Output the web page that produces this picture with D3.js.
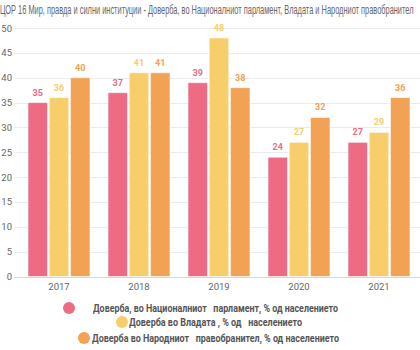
<!DOCTYPE html>
<html>
<head>
<meta charset="utf-8">
<script src="https://cdn.jsdelivr.net/npm/d3@7"></script>
<style>
html,body{margin:0;padding:0;background:#fff;}
svg{display:block;}
</style>
</head>
<body>
<svg id="chart" width="420" height="350"></svg>
<script>
const titleText = "ЦОР 16 Мир, правда и силни институции - Доверба, во Националниот парламент, Владата и Народниот правобранител";
const years = ["2017", "2018", "2019", "2020", "2021"];
const seriesNames = [
  "Доверба, во Националниот   парламент, % од населението",
  "Доверба во Владата , % од   населението",
  "Доверба во Народниот   правобранител, % од населението"
];
const parliament = [35, 37, 39, 24, 27];
const government = [36, 41, 48, 27, 29];
const ombudsman = [40, 41, 38, 32, 36];
const yTicks = [0, 5, 10, 15, 20, 25, 30, 35, 40, 45, 50];
const colors = ["#ED6C84", "#F6CE6B", "#F1A254"];

const seriesValues = [parliament, government, ombudsman];
const svg = d3.select("#chart");

const margin = {left: 19, right: 419, top: 28, bottom: 276.5};
const x0 = d3.scaleBand().domain(years).range([margin.left, margin.right]).paddingInner(0).paddingOuter(0);
const x1 = d3.scaleBand().domain(d3.range(3)).range([9, x0.bandwidth() - 9]).paddingInner(0.08);
const y = d3.scaleLinear().domain([0, 50]).range([margin.bottom, margin.top]);

// helper: squeeze a text horizontally to a target width
function squeeze(sel, targetW, x, yPos) {
  const node = sel.node();
  const w = node.getComputedTextLength();
  const s = Math.min(1, targetW / w);
  sel.attr("x", 0).attr("y", 0)
     .attr("transform", `translate(${x},${yPos}) scale(${s},1)`);
}

// title
const title = svg.append("text")
  .attr("font-family", "'Liberation Sans', sans-serif")
  .attr("font-size", 12.5)
  .attr("fill", "#666")
  .text(titleText);
squeeze(title, 414, 0, 14);

// gridlines
svg.append("g").selectAll("line").data(yTicks).join("line")
  .attr("x1", 14).attr("x2", 420)
  .attr("y1", d => Math.round(y(d)) + 0.5).attr("y2", d => Math.round(y(d)) + 0.5)
  .attr("stroke", d => d === 0 ? "#d8d8d8" : "#ebebeb")
  .attr("stroke-width", 1);

// y axis labels
const yAxis = d3.axisLeft(y).tickValues(yTicks).tickSize(0).tickPadding(0);
const yg = svg.append("g").attr("transform", "translate(12,0)").call(yAxis);
yg.select(".domain").remove();
yg.selectAll("text")
  .attr("font-family", "Roboto, 'Liberation Sans', sans-serif")
  .attr("font-size", 9.5).attr("fill", "#666");

// x axis labels
const xAxis = d3.axisBottom(x0).tickSize(0).tickPadding(0);
const xg = svg.append("g").attr("transform", "translate(0,283)").call(xAxis);
xg.select(".domain").remove();
xg.selectAll("text")
  .attr("font-family", "Roboto, 'Liberation Sans', sans-serif")
  .attr("font-size", 9.5).attr("fill", "#666");

// bars
const groups = svg.append("g").selectAll("g").data(years).join("g")
  .attr("transform", d => `translate(${x0(d)},0)`);

groups.selectAll("rect")
  .data((d, i) => seriesValues.map((s, k) => ({k, v: s[i]})))
  .join("rect")
  .attr("x", d => x1(d.k))
  .attr("width", x1.bandwidth())
  .attr("y", d => y(d.v))
  .attr("height", d => y(0) - y(d.v))
  .attr("fill", d => colors[d.k])
  .attr("stroke", "#fff")
  .attr("stroke-opacity", 0.6)
  .attr("stroke-width", 1);

groups.selectAll("text.val")
  .data((d, i) => seriesValues.map((s, k) => ({k, v: s[i]})))
  .join("text")
  .attr("class", "val")
  .attr("x", d => x1(d.k) + x1.bandwidth() / 2)
  .attr("y", d => y(d.v) - 7)
  .attr("text-anchor", "middle")
  .attr("font-family", "Roboto, 'Liberation Sans', sans-serif")
  .attr("font-weight", "bold")
  .attr("font-size", 9)
  .attr("fill", d => colors[d.k])
  .text(d => d.v);

// legend
const legendRows = [
  {cx: 69, cy: 308, tx: 93, w: 245},
  {cx: 122, cy: 322, tx: 129, w: 173},
  {cx: 84, cy: 338, tx: 92, w: 247}
];
const lg = svg.append("g");
seriesNames.forEach((name, k) => {
  const r = legendRows[k];
  lg.append("circle").attr("cx", r.cx).attr("cy", r.cy).attr("r", 6).attr("fill", colors[k]);
  lg.append("text")
    .attr("x", r.tx).attr("y", r.cy + 3.5)
    .attr("font-family", "Roboto, 'Liberation Sans', sans-serif")
    .attr("font-weight", "bold")
    .attr("font-size", 10)
    .attr("fill", "#555")
    .attr("textLength", r.w)
    .attr("lengthAdjust", "spacingAndGlyphs")
    .attr("xml:space", "preserve")
    .style("white-space", "pre")
    .text(name);
});
</script>
</body>
</html>
